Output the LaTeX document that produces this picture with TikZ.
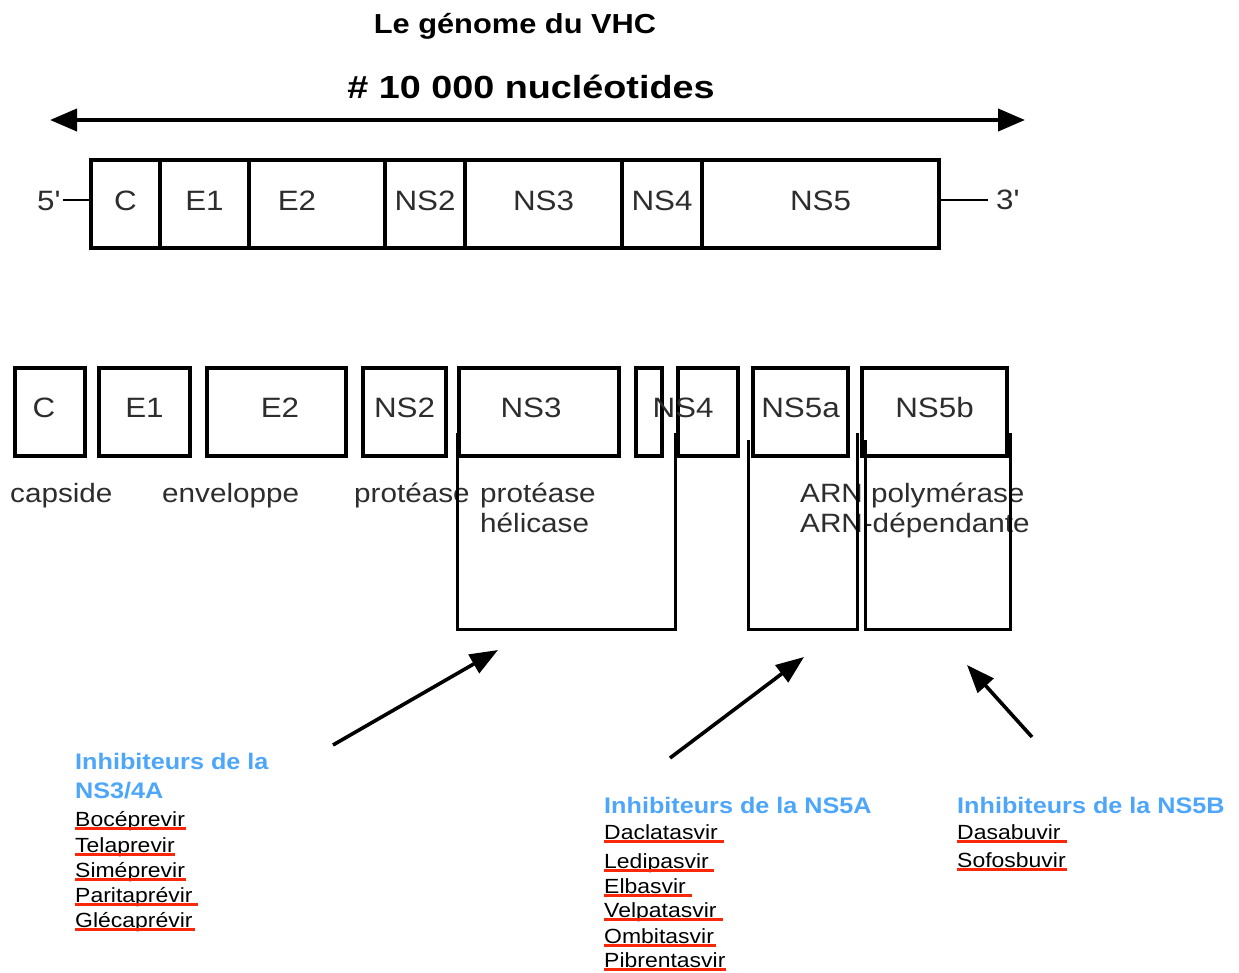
\documentclass[tikz,border=0pt]{standalone}
\usepackage{fontspec}
\setmainfont{Liberation Sans}[FakeStretch=1.12]
\newfontfamily\widefont{Liberation Sans}[FakeStretch=1.18]
\usetikzlibrary{arrows.meta}
\definecolor{hblue}{RGB}{77,166,250}
\definecolor{ured}{RGB}{250,40,10}
\definecolor{dgray}{RGB}{45,45,45}
\begin{document}
\begin{tikzpicture}[x=1pt,y=-1pt,
  seg/.style={draw, line width=3.6pt, minimum height=88pt, inner sep=0pt, outer sep=0pt,
    anchor=north west, font=\fontsize{28}{30}\selectfont, text=dgray, text height=20pt},
  gseg/.style={seg, text depth=8pt},
  pseg/.style={seg, text depth=10pt},
  boxlbl/.style={anchor=base, inner sep=0pt, font=\fontsize{28}{30}\selectfont, text=dgray},
  sublbl/.style={anchor=base west, inner sep=0pt, font=\fontsize{26.5}{28}\selectfont, text=dgray},
  head/.style={anchor=base west, inner sep=0pt, font=\bfseries\fontsize{22.5}{25}\selectfont, text=hblue},
  drug/.style={anchor=base west, inner sep=0pt, font=\fontsize{20.5}{23}\selectfont, text=black},
  uline/.style={draw=ured, line width=2.8pt},
  brk/.style={draw, line width=3pt},
  arr/.style={-{Triangle[length=28pt,width=21pt]}, line width=3.6pt},
  ]
\useasboundingbox (0,0) rectangle (1239,972);

% titles
\node[anchor=base, inner sep=0pt, font=\bfseries\fontsize{27.5}{30}\selectfont] (title) at (515,33) {Le génome du VHC};
\node[anchor=base, inner sep=0pt, font=\widefont\bfseries\fontsize{32}{34}\selectfont] (sub) at (531,98) {\# 10 000 nucléotides};
\coordinate (arL) at (50,120);
\coordinate (arR) at (1025,120);
\draw[{Triangle[length=27pt,width=22pt]}-{Triangle[length=27pt,width=22pt]}, line width=4pt] (arL) -- (arR);

% genome
\node[gseg, minimum width=69pt] (gC) at (91,160) {C};
\node[gseg, minimum width=89pt] (gE1) at (160,160) {E1};
\node[gseg, minimum width=136pt] (gE2) at (249,160) {};
\node[boxlbl] (gE2t) at (297,210) {E2};
\node[gseg, minimum width=80pt] (gNS2) at (385,160) {NS2};
\node[gseg, minimum width=157pt] (gNS3) at (465,160) {NS3};
\node[gseg, minimum width=80pt] (gNS4) at (622,160) {NS4};
\node[gseg, minimum width=237pt] (gNS5) at (702,160) {NS5};
\node[anchor=base west, inner sep=0pt, font=\fontsize{28}{30}\selectfont, text=dgray] (p5) at (37,210) {5\textquotesingle};
\node[anchor=base west, inner sep=0pt, font=\fontsize{28}{30}\selectfont, text=dgray] (p3) at (996,209) {3\textquotesingle};
\coordinate (c5) at (63,200);
\coordinate (c3) at (988,200);
\draw[line width=2.4pt] (c5) -- (c5 -| gC.west);
\draw[line width=2.4pt] (c3 -| gNS5.east) -- (c3);

% proteins
\node[pseg, minimum width=70pt] (pC) at (15,368) {};
\node[boxlbl] (pCt) at (44,417) {C};
\node[pseg, minimum width=91pt] (pE1) at (99,368) {E1};
\node[pseg, minimum width=139pt] (pE2) at (207,368) {};
\node[boxlbl] (pE2t) at (280,417) {E2};
\node[pseg, minimum width=83pt] (pNS2) at (363,368) {NS2};
\node[pseg, minimum width=160pt] (pNS3) at (459,368) {};
\node[boxlbl] (pNS3t) at (531,417) {NS3};
\node[pseg, minimum width=26pt] (pNS4a) at (636,368) {};
\node[pseg, minimum width=60pt] (pNS4) at (678,368) {};
\node[boxlbl] (pNS4t) at (683,417) {NS4};
\node[pseg, minimum width=95pt] (pNS5a) at (753,368) {NS5a};
\node[pseg, minimum width=145pt] (pNS5b) at (862,368) {NS5b};

% functions
\node[sublbl] (fC) at (10,502) {capside};
\node[sublbl] (fE) at (162,502) {enveloppe};
\node[sublbl] (fNS2) at (354,502) {protéase};
\node[sublbl] (fNS3a) at (480,502) {protéase};
\node[sublbl] (fNS3b) at (480,532) {hélicase};
\node[sublbl] (fNS5a) at (800,502) {ARN polymérase};
\node[sublbl] (fNS5b) at (800,532) {ARN-dépendante};

% brackets
\draw[brk] (457,433) |- (675,629) -- (675,433);
\draw[brk] (748,440) |- (857,629) -- (857,433);
\draw[brk] (865,440) |- (1010,629) -- (1010,433);

% arrows
\coordinate (a1s) at (333,745); \coordinate (a1e) at (498,650);
\coordinate (a2s) at (670,758); \coordinate (a2e) at (804,657);
\coordinate (a3s) at (1032,737); \coordinate (a3e) at (967,665);
\draw[arr] (a1s) -- (a1e);
\draw[arr] (a2s) -- (a2e);
\draw[arr] (a3s) -- (a3e);

% NS3/4A
\node[head] (h1a) at (75,769) {Inhibiteurs de la};
\node[head] (h1b) at (75,798) {NS3/4A};
\foreach \i/\t/\b/\e in {1/Bocéprevir/826/1, 2/Telaprevir/852/0, 3/Siméprevir/877/1, 4/Paritaprévir/902/5, 5/Glécaprévir/927/2}{
  \node[drug] (p\i) at (75,\b) {\t};
  \draw[uline] ([yshift=-2.5pt]p\i.base west) -- ([yshift=-2.5pt,xshift=\e pt]p\i.base east);
}
% NS5A
\node[head] (h2) at (604,813) {Inhibiteurs de la NS5A};
\foreach \i/\t/\b/\e in {1/Daclatasvir/839/6, 2/Ledipasvir/868/5, 3/Elbasvir/893/6, 4/Velpatasvir/917/6, 5/Ombitasvir/943/2, 6/Pibrentasvir/967/0}{
  \node[drug] (q\i) at (604,\b) {\t};
  \draw[uline] ([yshift=-2.5pt]q\i.base west) -- ([yshift=-2.5pt,xshift=\e pt]q\i.base east);
}
% NS5B
\node[head] (h3) at (957,813) {Inhibiteurs de la NS5B};
\foreach \i/\t/\b/\e in {1/Dasabuvir/839/6, 2/Sofosbuvir/867/1}{
  \node[drug] (r\i) at (957,\b) {\t};
  \draw[uline] ([yshift=-2.5pt]r\i.base west) -- ([yshift=-2.5pt,xshift=\e pt]r\i.base east);
}
\end{tikzpicture}
\end{document}
